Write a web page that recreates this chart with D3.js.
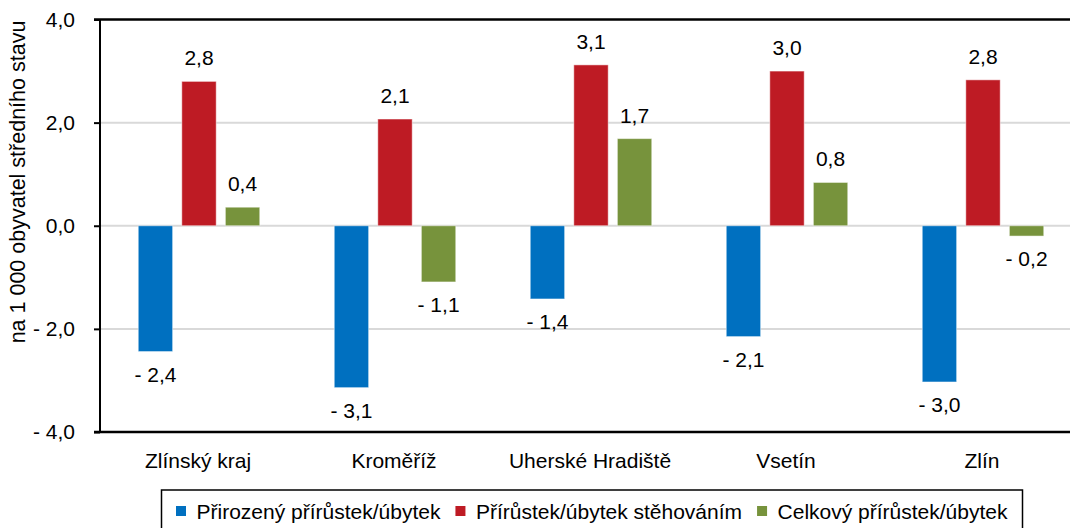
<!DOCTYPE html>
<html>
<head>
<meta charset="utf-8">
<script src="https://cdn.jsdelivr.net/npm/d3@7"></script>
<style>
	body { margin: 0; background: #fff; }
	svg { display: block; font-family: Arial, "Liberation Sans", sans-serif; }
</style>
</head>
<body>
<svg id="chart" width="1070" height="528"></svg>
<script>
	/* Data */
	let categories = ["Zlínský kraj", "Kroměříž", "Uherské Hradiště", "Vsetín", "Zlín"];
	let seriesNames = ["Přirozený přírůstek/úbytek", "Přírůstek/úbytek stěhováním", "Celkový přírůstek/úbytek"];
	let natural = [-2.44, -3.14, -1.42, -2.15, -3.03];
	let migration = [2.8, 2.07, 3.12, 3.0, 2.83];
	let total = [0.36, -1.09, 1.69, 0.84, -0.2];
	let yTicks = [-4, -2, 0, 2, 4];
	let colors = ["#0070C0", "#BE1B24", "#77933C"];
	let yTitle = "na 1 000 obyvatel středního stavu";

	let seriesValues = [natural, migration, total];
	let data = categories.map(function(c, i) {
		return { key: c, values: seriesNames.map(function(s, j) { return { key: s, value: seriesValues[j][i] }; }) };
	});

	/* Layout */
	let svg = d3.select("#chart");
	let plotLeft = 100, plotRight = 1080, plotTop = 19.5, plotBottom = 432;
	let fontSize = 21;

	// Czech style number: "- 2,4"
	let fmt = function(v) {
		let s = Math.abs(v).toFixed(1).replace(".", ",");
		return v < 0 ? "- " + s : s;
	};

	let yScale = d3.scaleLinear().domain([-4, 4]).range([plotBottom, plotTop]);
	let x0 = d3.scaleBand().domain(categories).range([plotLeft, plotRight]);
	let groupWidth = x0.bandwidth() * 0.62;
	let x1 = d3.scaleBand().domain(seriesNames).range([0, groupWidth]).paddingInner(0.21);
	let colorScale = d3.scaleOrdinal().domain(seriesNames).range(colors);

	// Gridlines
	svg.append("g")
		.selectAll("line")
		.data(yTicks.filter(function(t) { return t > -4 && t < 4; }))
		.enter().append("line")
		.attr("x1", plotLeft).attr("x2", 1070)
		.attr("y1", function(d) { return yScale(d); })
		.attr("y2", function(d) { return yScale(d); })
		.attr("stroke", "#d9d9d9")
		.attr("stroke-width", 2);

	// Y axis
	let yAxis = d3.axisLeft(yScale).tickValues(yTicks).tickSize(6).tickPadding(19).tickFormat(fmt);
	let yG = svg.append("g").attr("transform", "translate(" + plotLeft + ",0)").call(yAxis);
	yG.select(".domain").remove();
	yG.selectAll(".tick line").attr("stroke", "#000").attr("stroke-width", 2);
	yG.selectAll(".tick text").attr("font-size", fontSize).attr("fill", "#000").attr("font-family", "Arial, 'Liberation Sans', sans-serif");
	svg.append("line")
		.attr("x1", plotLeft).attr("x2", plotLeft).attr("y1", plotTop).attr("y2", plotBottom)
		.attr("stroke", "#000").attr("stroke-width", 2);

	// Top and bottom borders
	[4, -4].forEach(function(t) {
		svg.append("line")
			.attr("x1", plotLeft - 6).attr("x2", 1070)
			.attr("y1", yScale(t)).attr("y2", yScale(t))
			.attr("stroke", "#000").attr("stroke-width", 2.5);
	});

	// Y title
	svg.append("text")
		.attr("transform", "translate(25,182) rotate(-90)")
		.attr("text-anchor", "middle")
		.attr("font-size", 21.5)
		.text(yTitle);

	// Bars
	let groups = svg.selectAll(".group")
		.data(data)
		.enter().append("g")
		.attr("class", "group")
		.attr("transform", function(d) { return "translate(" + (x0(d.key) + (x0.bandwidth() - groupWidth) / 2 + 1) + ",0)"; });

	groups.selectAll("rect")
		.data(function(d) { return d.values; })
		.enter().append("rect")
		.attr("x", function(d) { return x1(d.key); })
		.attr("width", x1.bandwidth())
		.attr("y", function(d) { return yScale(Math.max(0, d.value)); })
		.attr("height", function(d) { return Math.abs(yScale(d.value) - yScale(0)); })
		.attr("fill", function(d) { return colorScale(d.key); })
		.attr("stroke", "#fff")
		.attr("stroke-opacity", 0.5)
		.attr("stroke-width", 1);

	// Value labels
	groups.selectAll(".lbl")
		.data(function(d) { return d.values; })
		.enter().append("text")
		.attr("class", "lbl")
		.attr("x", function(d) { return x1(d.key) + x1.bandwidth() / 2; })
		.attr("y", function(d) { return d.value >= 0 ? yScale(d.value) - 16 : yScale(d.value) + 30; })
		.attr("text-anchor", "middle")
		.attr("font-size", fontSize)
		.text(function(d) { return fmt(d.value); });

	// Category labels
	svg.append("g")
		.selectAll("text")
		.data(categories)
		.enter().append("text")
		.attr("x", function(d) { return x0(d) + x0.bandwidth() / 2; })
		.attr("y", 468)
		.attr("text-anchor", "middle")
		.attr("font-size", fontSize)
		.text(function(d) { return d; });

	// Legend
	let legend = svg.append("g");
	legend.append("rect")
		.attr("x", 161.5).attr("y", 490)
		.attr("width", 861).attr("height", 50)
		.attr("fill", "none").attr("stroke", "#000").attr("stroke-width", 1.5);
	let lx = 176;
	seriesNames.forEach(function(s) {
		legend.append("rect")
			.attr("x", lx).attr("y", 506)
			.attr("width", 10).attr("height", 10)
			.attr("fill", colorScale(s));
		let t = legend.append("text")
			.attr("x", lx + 20.5).attr("y", 519)
			.attr("font-size", fontSize)
			.text(s);
		lx += 20.5 + t.node().getComputedTextLength() + 15;
	});
</script>
</body>
</html>
